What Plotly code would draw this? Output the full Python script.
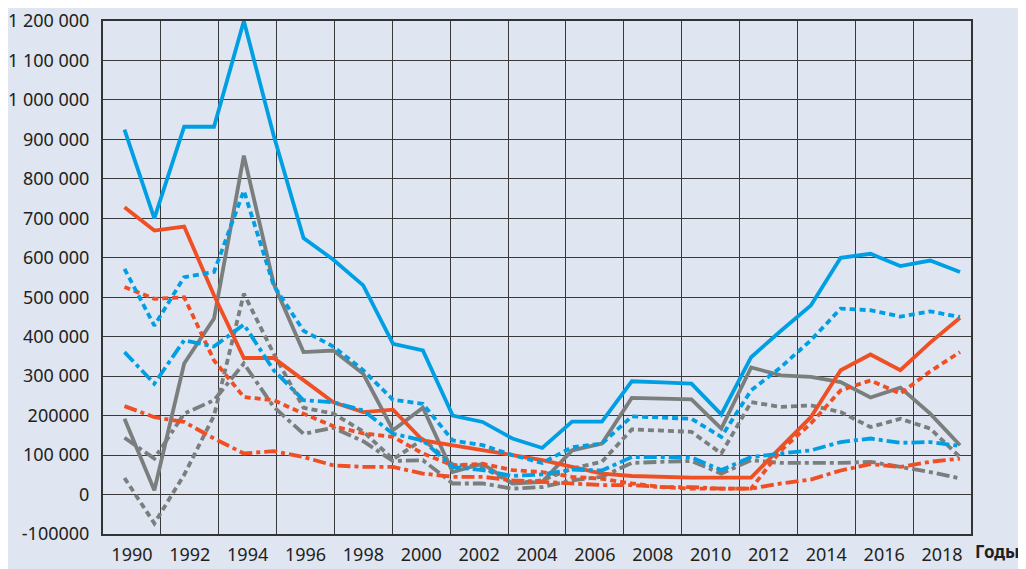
import plotly.graph_objects as go

years = list(range(1990, 2019))

blue_solid = [925, 700, 932, 932, 1200, 910, 650, 595, 530, 382, 365, 200, 184, 142, 118, 185, 185, 287, 284, 281, 203, 348, 415, 479, 600, 610, 579, 593, 564]
blue_dot = [572, 428, 551, 564, 770, 530, 415, 375, 315, 240, 230, 137, 125, 100, 80, 120, 129, 198, 195, 192, 146, 264, 323, 391, 471, 467, 451, 464, 450]
blue_dashdot = [361, 281, 391, 375, 431, 315, 239, 234, 213, 154, 137, 70, 62, 47, 51, 63, 61, 95, 95, 94, 62, 95, 104, 112, 133, 142, 131, 133, 123]

red_solid = [728, 669, 679, 505, 346, 346, 290, 234, 209, 215, 137, 125, 114, 100, 87, 70, 53, 47, 44, 43, 43, 43, 120, 196, 315, 355, 315, 385, 448]
red_dot = [526, 496, 500, 340, 247, 239, 205, 173, 155, 146, 104, 74, 78, 62, 57, 45, 40, 28, 19, 15, 15, 15, 112, 180, 264, 289, 256, 312, 361]
red_dashdot = [224, 196, 184, 142, 104, 110, 95, 74, 70, 70, 53, 45, 45, 36, 32, 28, 24, 24, 19, 19, 15, 15, 28, 38, 61, 77, 70, 83, 91]

gray_solid = [192, 11, 332, 446, 859, 534, 361, 365, 306, 163, 220, 57, 78, 28, 32, 112, 129, 245, 243, 241, 167, 322, 302, 298, 285, 246, 271, 205, 125]
gray_dot = [42, -73, 50, 200, 509, 357, 220, 205, 160, 89, 140, 76, 70, 28, 36, 66, 83, 165, 162, 159, 104, 234, 222, 226, 209, 171, 192, 167, 95]
gray_dashdot = [144, 91, 205, 239, 332, 222, 154, 169, 135, 85, 87, 28, 28, 15, 19, 36, 45, 80, 83, 85, 53, 87, 80, 80, 80, 83, 70, 57, 41]

x_labels = [str(y) for y in range(1990, 2019, 2)]
y_ticks = list(range(-100000, 1200001, 100000))
y_labels = ["-100000", "0", "100 000", "200000", "300 000", "400 000", "500 000",
            "600 000", "700 000", "800 000", "900 000", "1 000 000", "1 100 000", "1 200 000"]

BLUE = "#009fe3"
RED = "#f04e23"
GRAY = "#7a7e7d"
BG = "#dfe5f1"
GRID = "#3a3a3a"
W = 3.8
DOT = "6px,4px"
DASHDOT = "13px,4px,4px,4px"

series = [
    (gray_dashdot, GRAY, DASHDOT),
    (gray_dot, GRAY, DOT),
    (gray_solid, GRAY, "solid"),
    (red_dashdot, RED, DASHDOT),
    (red_dot, RED, DOT),
    (red_solid, RED, "solid"),
    (blue_dashdot, BLUE, DASHDOT),
    (blue_dot, BLUE, DOT),
    (blue_solid, BLUE, "solid"),
]

fig = go.Figure()
for vals, col, dash in series:
    fig.add_trace(go.Scatter(
        x=years, y=[v * 1000 for v in vals], mode="lines",
        line=dict(color=col, width=W, dash=dash),
        showlegend=False, hoverinfo="skip",
    ))

# x-axis: 15 equal columns, labels at column centres
x0 = 1990 - 21.5 / 29.86
x1 = 2018 + 11 / 29.86
col_w = (x1 - x0) / 15
label_pos = [x0 + (k + 0.5) * col_w for k in range(15)]

FONT = "Noto Sans"
fig.update_xaxes(
    range=[x0, x1], automargin=False,
    tickmode="array", tickvals=label_pos, ticktext=x_labels,
    showgrid=False, zeroline=False,
    minor=dict(tickmode="linear", tick0=x0, dtick=col_w, showgrid=True,
               gridcolor=GRID, gridwidth=1, ticks=""),
    showline=True, linecolor="#333333", linewidth=2, mirror=True,
    ticks="", ticklabelstandoff=3,
    tickfont=dict(family=FONT, size=18, color="#231f20"),
)
fig.update_yaxes(
    range=[-100000, 1200000], automargin=False,
    tickmode="array", tickvals=y_ticks, ticktext=y_labels,
    showgrid=True, gridcolor=GRID, gridwidth=1, zeroline=False,
    showline=True, linecolor="#333333", linewidth=2, mirror=True,
    ticks="", ticklabelstandoff=8,
    tickfont=dict(family=FONT, size=18, color="#231f20"),
)

fig.add_annotation(
    text="<b>Годы</b>", xref="paper", yref="paper", x=1.0, y=0,
    xanchor="left", yanchor="top", yshift=-4, xshift=2, showarrow=False,
    font=dict(family=FONT, size=17, color="#231f20"),
)

# page body has an 8px default margin; figure sized to fill the window exactly
fig.update_layout(
    width=1018, height=561,
    margin=dict(l=94.5, r=55, t=12.5, b=35, pad=0, autoexpand=False),
    paper_bgcolor=BG, plot_bgcolor=BG,
)

fig.write_html("out.html")
